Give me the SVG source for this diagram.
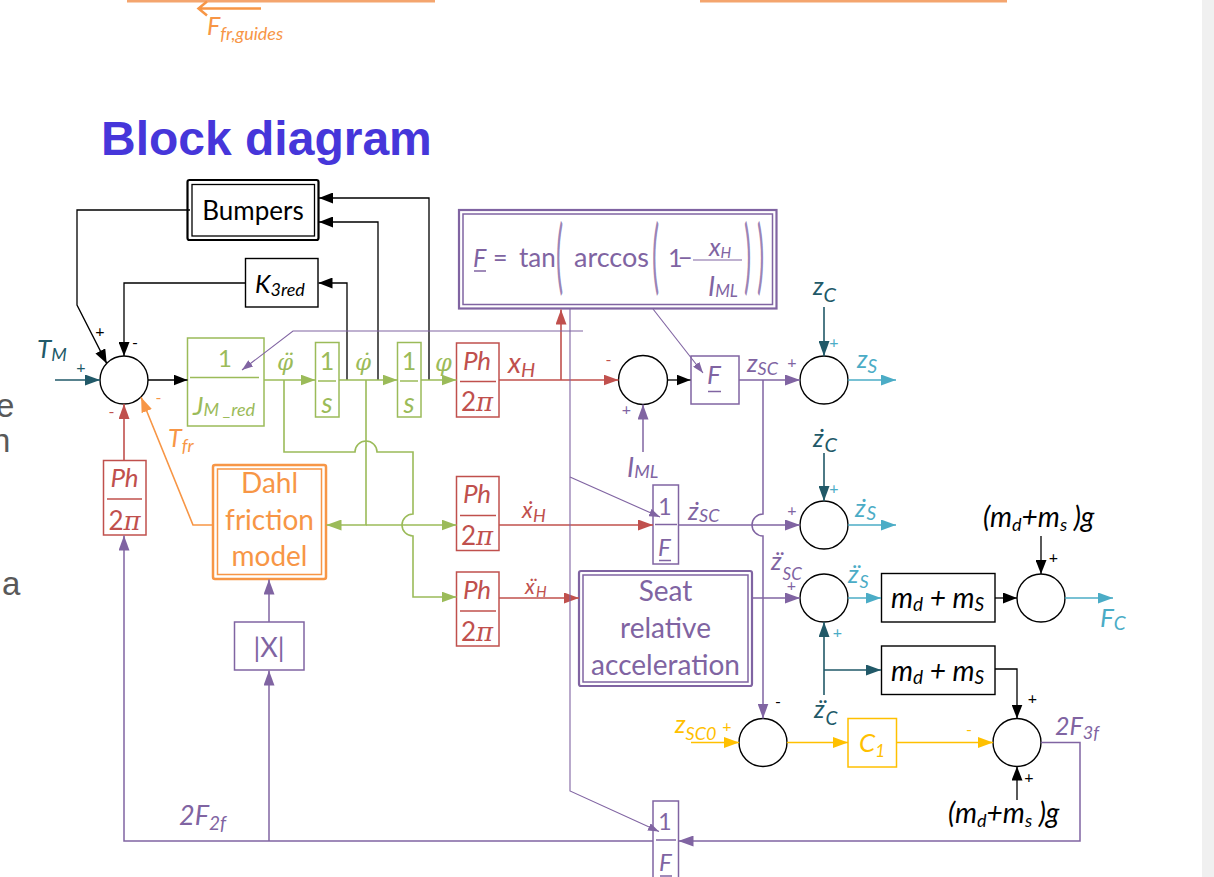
<svg xmlns="http://www.w3.org/2000/svg" width="1214" height="877" viewBox="0 0 1214 877">
<defs>
<style>
text{font-family:Lato,"Open Sans","Liberation Sans",sans-serif}
.it{font-style:italic}
.gk{font-family:"DejaVu Serif","Liberation Serif",serif;font-style:italic}
.ttl{font-family:"Liberation Sans",Arial,sans-serif;font-weight:bold;font-size:48px;fill:#4636DA}
.frag{font-family:"Liberation Sans",Arial,sans-serif;font-size:33px;fill:#595959}
.pm{font-size:16px}
.k{fill:#000}.g{fill:#9BBB59}.r{fill:#C0504D}.p{fill:#8064A2}.o{fill:#F79646}.t{fill:#215968}.c{fill:#4BACC6}.y{fill:#FFC000}
.sum{fill:#fff;stroke:#000;stroke-width:1.4}
.bk{fill:#fff;stroke:#000;stroke-width:1.4}
.bg{fill:#fff;stroke:#9BBB59;stroke-width:1.5}
.br{fill:#fff;stroke:#C0504D;stroke-width:1.5}
.bp{fill:#fff;stroke:#8064A2;stroke-width:1.5}
.by{fill:#fff;stroke:#FFC000;stroke-width:1.5}
.sK{stroke:#000;stroke-width:1.3;fill:none}
.sG{stroke:#9BBB59;stroke-width:1.6;fill:none}
.sR{stroke:#C0504D;stroke-width:1.6;fill:none}
.sP{stroke:#8064A2;stroke-width:1.5;fill:none}
.sPt{stroke:#8064A2;stroke-width:1.1;fill:none}
.sO{stroke:#F79646;stroke-width:1.6;fill:none}
.sT{stroke:#215968;stroke-width:1.6;fill:none}
.sC{stroke:#4BACC6;stroke-width:1.6;fill:none}
.sY{stroke:#FFC000;stroke-width:1.6;fill:none}
</style>
<marker id="aK" viewBox="0 0 14 11" refX="14" refY="5.5" markerWidth="14" markerHeight="11" markerUnits="userSpaceOnUse" orient="auto"><path d="M0,0L14,5.5L0,11z" fill="#000"/></marker>
<marker id="aG" viewBox="0 0 15 11" refX="15" refY="5.5" markerWidth="15" markerHeight="11" markerUnits="userSpaceOnUse" orient="auto"><path d="M0,0L15,5.5L0,11z" fill="#9BBB59"/></marker>
<marker id="aR" viewBox="0 0 15 11" refX="15" refY="5.5" markerWidth="15" markerHeight="11" markerUnits="userSpaceOnUse" orient="auto"><path d="M0,0L15,5.5L0,11z" fill="#C0504D"/></marker>
<marker id="aP" viewBox="0 0 15 11" refX="15" refY="5.5" markerWidth="15" markerHeight="11" markerUnits="userSpaceOnUse" orient="auto"><path d="M0,0L15,5.5L0,11z" fill="#8064A2"/></marker>
<marker id="aPs" viewBox="0 0 11 8" refX="11" refY="4" markerWidth="11" markerHeight="8" markerUnits="userSpaceOnUse" orient="auto"><path d="M0,0L11,4L0,8z" fill="#8064A2"/></marker>
<marker id="aO" viewBox="0 0 15 11" refX="15" refY="5.5" markerWidth="15" markerHeight="11" markerUnits="userSpaceOnUse" orient="auto"><path d="M0,0L15,5.5L0,11z" fill="#F79646"/></marker>
<marker id="aT" viewBox="0 0 15 11" refX="15" refY="5.5" markerWidth="15" markerHeight="11" markerUnits="userSpaceOnUse" orient="auto"><path d="M0,0L15,5.5L0,11z" fill="#215968"/></marker>
<marker id="aC" viewBox="0 0 15 11" refX="15" refY="5.5" markerWidth="15" markerHeight="11" markerUnits="userSpaceOnUse" orient="auto"><path d="M0,0L15,5.5L0,11z" fill="#4BACC6"/></marker>
<marker id="aY" viewBox="0 0 15 11" refX="15" refY="5.5" markerWidth="15" markerHeight="11" markerUnits="userSpaceOnUse" orient="auto"><path d="M0,0L15,5.5L0,11z" fill="#FFC000"/></marker>
</defs>

<rect x="0" y="0" width="1214" height="877" fill="#fff"/>
<rect x="1202" y="0" width="12" height="877" fill="#f0f0f0"/>

<g id="slide-fragments">
<rect x="127" y="0" width="308" height="2.5" fill="#F4A56E"/>
<rect x="700" y="0" width="307" height="2.5" fill="#F4A56E"/>
<path d="M261,8.5H199M207,1.5L198.5,8.5L207,15.5" stroke="#F79646" stroke-width="2.5" fill="none"/>
<text class="it o" x="207" y="35" font-size="25">F<tspan font-size="18" dy="5">fr,guides</tspan></text>
<text class="ttl" x="101" y="155">Block diagram</text>
<text class="frag" x="-4" y="417">e</text>
<text class="frag" x="-8" y="452">n</text>
<text class="frag" x="2" y="595">a</text>
</g>

<g id="nodes">
<g id="bumpers">
<rect x="187.5" y="180" width="131" height="60" rx="2" fill="#fff" stroke="#000" stroke-width="2.2"/>
<rect x="192" y="184.5" width="122.5" height="51.5" fill="none" stroke="#000" stroke-width="1.3"/>
<text class="k" x="253" y="220" text-anchor="middle" font-size="26">Bumpers</text>
</g>
<g id="k3red">
<rect class="bk" x="245.5" y="258.5" width="72.5" height="48.5"/>
<text class="it k" x="255" y="293" font-size="25">K<tspan font-size="18" dy="3">3red</tspan></text>
</g>
<g id="sum1"><circle class="sum" cx="124" cy="380" r="24"/></g>
<g id="inertia">
<rect class="bg" x="187.5" y="338" width="76.5" height="88"/>
<text class="g" x="225" y="367" text-anchor="middle" font-size="24">1</text>
<line x1="190" y1="377.5" x2="259" y2="377.5" stroke="#9BBB59" stroke-width="1.5"/>
<text class="it g" x="193" y="415" font-size="26">J<tspan font-size="18" dy="1">M _red</tspan></text>
</g>
<g id="int1">
<rect class="bg" x="315.5" y="342.5" width="23.5" height="74.5"/>
<text class="g" x="327" y="370" text-anchor="middle" font-size="25">1</text>
<line x1="318" y1="381" x2="336" y2="381" stroke="#9BBB59" stroke-width="1.5"/>
<text class="it g" x="327" y="413" text-anchor="middle" font-size="28">s</text>
</g>
<g id="int2">
<rect class="bg" x="397.5" y="342.5" width="23.5" height="74.5"/>
<text class="g" x="409" y="370" text-anchor="middle" font-size="25">1</text>
<line x1="400" y1="381" x2="418" y2="381" stroke="#9BBB59" stroke-width="1.5"/>
<text class="it g" x="409" y="413" text-anchor="middle" font-size="28">s</text>
</g>
<g id="ph1">
<rect class="br" x="456.5" y="343" width="42.5" height="74"/>
<text class="it r" x="477" y="370" text-anchor="middle" font-size="26">Ph</text>
<line x1="460" y1="381.5" x2="496" y2="381.5" stroke="#C0504D" stroke-width="1.5"/>
<text class="r" x="477" y="411" text-anchor="middle" font-size="26">2<tspan class="gk">π</tspan></text>
</g>
<g id="ph2">
<rect class="br" x="456.5" y="476.5" width="42.5" height="74"/>
<text class="it r" x="477" y="503" text-anchor="middle" font-size="26">Ph</text>
<line x1="460" y1="515.5" x2="496" y2="515.5" stroke="#C0504D" stroke-width="1.5"/>
<text class="r" x="477" y="545" text-anchor="middle" font-size="26">2<tspan class="gk">π</tspan></text>
</g>
<g id="ph3">
<rect class="br" x="456.5" y="572" width="42.5" height="74"/>
<text class="it r" x="477" y="599" text-anchor="middle" font-size="26">Ph</text>
<line x1="460" y1="611" x2="496" y2="611" stroke="#C0504D" stroke-width="1.5"/>
<text class="r" x="477" y="641" text-anchor="middle" font-size="26">2<tspan class="gk">π</tspan></text>
</g>
<g id="ph-left">
<rect class="br" x="103.5" y="460.5" width="42.5" height="74.5"/>
<text class="it r" x="124.5" y="487" text-anchor="middle" font-size="26">Ph</text>
<line x1="107" y1="499" x2="142" y2="499" stroke="#C0504D" stroke-width="1.5"/>
<text class="r" x="124.5" y="530" text-anchor="middle" font-size="26">2<tspan class="gk">π</tspan></text>
</g>
<g id="formula">
<rect class="bp" x="459" y="210" width="317.5" height="98.5" style="stroke-width:2.2"/>
<rect x="463" y="214" width="309.5" height="90.5" fill="none" stroke="#8064A2" stroke-width="1.5"/>
<text class="it p" x="473" y="267" font-size="25">F</text>
<line x1="474" y1="271" x2="486" y2="271" stroke="#8064A2" stroke-width="1.5"/>
<text class="p" x="493" y="267" font-size="25">=</text>
<text class="p" x="519" y="267" font-size="26">tan</text>
<text class="p" transform="translate(556,284) scale(1,3)" font-size="27" fill-opacity="0.8">(</text>
<text class="p" x="574" y="267" font-size="27">arccos</text>
<text class="p" transform="translate(652,284) scale(1,3)" font-size="27" fill-opacity="0.8">(</text>
<text class="p" x="668" y="267" font-size="25">1</text>
<text class="p" x="678" y="267" font-size="25">−</text>
<line x1="693" y1="260" x2="742" y2="260" stroke="#8064A2" stroke-width="1.2"/>
<text class="it p" x="709" y="256" font-size="25">x<tspan font-size="15" dy="2">H</tspan></text>
<text class="it p" x="708" y="296" font-size="27">I<tspan font-size="17" dy="1">ML</tspan></text>
<text class="p" transform="translate(744,284) scale(1,3)" font-size="27" fill-opacity="0.8">)</text>
<text class="p" transform="translate(757,284) scale(1,3)" font-size="27" fill-opacity="0.8">)</text>
</g>
<g id="sum2"><circle class="sum" cx="643" cy="380" r="24.5"/></g>
<g id="fbox">
<rect class="bp" x="691" y="356" width="48" height="48"/>
<text class="it p" x="707" y="384" font-size="26">F</text>
<line x1="708" y1="391.5" x2="721" y2="391.5" stroke="#8064A2" stroke-width="1.5"/>
</g>
<g id="sum3"><circle class="sum" cx="824" cy="380" r="24"/></g>
<g id="sum4"><circle class="sum" cx="824" cy="525" r="24"/></g>
<g id="sum5"><circle class="sum" cx="824" cy="598" r="24"/></g>
<g id="sum6"><circle class="sum" cx="1041" cy="598" r="24"/></g>
<g id="sum7"><circle class="sum" cx="763" cy="742.5" r="24"/></g>
<g id="sum8"><circle class="sum" cx="1017" cy="742.5" r="24"/></g>
<g id="invF-mid">
<rect class="bp" x="653" y="485" width="25.5" height="79"/>
<text class="p" x="665" y="515" text-anchor="middle" font-size="23">1</text>
<line x1="655" y1="524.5" x2="677" y2="524.5" stroke="#8064A2" stroke-width="1.5"/>
<text class="it p" x="658" y="556" font-size="24">F</text>
<line x1="659" y1="560.5" x2="671" y2="560.5" stroke="#8064A2" stroke-width="1.5"/>
</g>
<g id="invF-bot">
<rect class="bp" x="653" y="801" width="25.5" height="90"/>
<text class="p" x="665" y="830" text-anchor="middle" font-size="23">1</text>
<line x1="656" y1="840" x2="676" y2="840" stroke="#8064A2" stroke-width="1.5"/>
<text class="it p" x="659" y="871" font-size="24">F</text>
<line x1="660" y1="876" x2="672" y2="876" stroke="#8064A2" stroke-width="1.5"/>
</g>
<g id="seat">
<rect class="bp" x="579" y="571" width="173" height="115" rx="2" style="stroke-width:2.2"/>
<rect x="583" y="575" width="165" height="107" fill="none" stroke="#8064A2" stroke-width="1.5"/>
<text class="p" x="665.5" y="601" text-anchor="middle" font-size="28">Seat</text>
<text class="p" x="665.5" y="638" text-anchor="middle" font-size="28">relative</text>
<text class="p" x="665.5" y="675" text-anchor="middle" font-size="28">acceleration</text>
</g>
<g id="dahl">
<rect x="213" y="465" width="113" height="114" rx="2" fill="#fff" stroke="#F79646" stroke-width="2.5"/>
<rect x="217.5" y="469" width="104" height="105.5" fill="none" stroke="#F79646" stroke-width="1.5"/>
<text class="o" x="269.5" y="493" text-anchor="middle" font-size="28">Dahl</text>
<text class="o" x="269.5" y="530" text-anchor="middle" font-size="28">friction</text>
<text class="o" x="269.5" y="566" text-anchor="middle" font-size="28">model</text>
</g>
<g id="absx">
<rect class="bp" x="234.5" y="622" width="69.5" height="48"/>
<text class="p" x="269" y="657" text-anchor="middle" font-size="27">|X|</text>
</g>
<g id="mass1">
<rect class="bk" x="881.5" y="573.5" width="113.5" height="48.5"/>
<text class="it k" x="891" y="608" font-size="28">m<tspan font-size="19" dy="3">d</tspan><tspan dy="-3"> + m</tspan><tspan font-size="19" dy="3">S</tspan></text>
</g>
<g id="mass2">
<rect class="bk" x="881.5" y="646" width="113.5" height="48.5"/>
<text class="it k" x="891" y="681" font-size="28">m<tspan font-size="19" dy="3">d</tspan><tspan dy="-3"> + m</tspan><tspan font-size="19" dy="3">S</tspan></text>
</g>
<g id="c1">
<rect class="by" x="848" y="718.5" width="48.5" height="48.5"/>
<text class="it y" x="859" y="752" font-size="26">C<tspan font-size="17" dy="5">1</tspan></text>
</g>
</g>

<g id="connectors">
<path class="sK" d="M190,210H77V305L106.7,363.4" marker-end="url(#aK)"/>
<path class="sK" d="M245,283H124V356" marker-end="url(#aK)"/>
<path class="sK" d="M347,380V283H318.5" marker-end="url(#aK)"/>
<path class="sK" d="M378,380V222H319" marker-end="url(#aK)"/>
<path class="sK" d="M429,380V198H319" marker-end="url(#aK)"/>
<path class="sK" d="M148,380H187.5" marker-end="url(#aK)"/>
<path class="sK" d="M667.5,380H690.5" marker-end="url(#aK)"/>
<path class="sK" d="M995,598H1017" marker-end="url(#aK)"/>
<path class="sK" d="M1041,536V574" marker-end="url(#aK)"/>
<path class="sK" d="M995,669H1017V718.5" marker-end="url(#aK)"/>
<path class="sK" d="M1017,800V766.5" marker-end="url(#aK)"/>

<path class="sT" d="M55,380H100" marker-end="url(#aT)"/>
<path class="sT" d="M824,307V356" marker-end="url(#aT)"/>
<path class="sT" d="M824,453V501" marker-end="url(#aT)"/>
<path class="sT" d="M824,695V622" marker-end="url(#aT)"/>
<path class="sT" d="M824,670H881" marker-end="url(#aT)"/>

<path class="sC" d="M848,380H896" marker-end="url(#aC)"/>
<path class="sC" d="M848,525H896" marker-end="url(#aC)"/>
<path class="sC" d="M848,598H881" marker-end="url(#aC)"/>
<path class="sC" d="M1065,598H1113" marker-end="url(#aC)"/>

<path class="sG" d="M264,380H315.5" marker-end="url(#aG)"/>
<path class="sG" d="M339,380H397.5" marker-end="url(#aG)"/>
<path class="sG" d="M421,380H456.5" marker-end="url(#aG)"/>
<path class="sG" d="M284,380V452H355A11,11 0 0 1 377,452H413V514A11,11 0 0 0 413,536V597H456.5" marker-end="url(#aG)"/>
<path class="sG" d="M366,380V525H326.5" marker-end="url(#aG)"/>
<path class="sG" d="M366,525H456.5" marker-end="url(#aG)"/>

<path class="sR" d="M499,380H618.5" marker-end="url(#aR)"/>
<path class="sR" d="M561,380V309.5" marker-end="url(#aR)"/>
<path class="sR" d="M499,525H653" marker-end="url(#aR)"/>
<path class="sR" d="M499,598H579" marker-end="url(#aR)"/>
<path class="sR" d="M124,460.5V404" marker-end="url(#aR)"/>

<path class="sO" d="M213,525H193L141.1,397.2" marker-end="url(#aO)"/>

<path class="sP" d="M653,841H124V535.5" marker-end="url(#aP)"/>
<path class="sP" d="M269,841V670.5" marker-end="url(#aP)"/>
<path class="sP" d="M269,622V579.5" marker-end="url(#aP)"/>
<path class="sPt" d="M570,309V791L659,831.5" marker-end="url(#aPs)"/>
<path class="sPt" d="M570,477L660,517" marker-end="url(#aPs)"/>
<path class="sPt" d="M583,331H293L242,370" marker-end="url(#aPs)"/>
<path class="sPt" d="M653,309L703,373" marker-end="url(#aPs)"/>
<path class="sP" d="M739,380H800" marker-end="url(#aP)"/>
<path class="sP" d="M763,380V514A11,11 0 0 0 763,536V718.5" marker-end="url(#aP)"/>
<path class="sP" d="M678.5,525H800" marker-end="url(#aP)"/>
<path class="sP" d="M752,598H800" marker-end="url(#aP)"/>
<path class="sP" d="M1041,742.5H1080V841H678.5" marker-end="url(#aP)"/>
<path class="sP" d="M643,452V404.5" marker-end="url(#aP)"/>

<path class="sY" d="M691,742.5H739" marker-end="url(#aY)"/>
<path class="sY" d="M787,742.5H848" marker-end="url(#aY)"/>
<path class="sY" d="M896.5,742.5H993" marker-end="url(#aY)"/>
</g>

<g id="labels">
<text class="it t" x="37" y="358" font-size="26">T<tspan font-size="18" dy="3">M</tspan></text>
<text class="pm t" x="81" y="373" text-anchor="middle">+</text>
<text class="pm k" x="100" y="337" text-anchor="middle">+</text>
<text class="pm k" x="135" y="348" text-anchor="middle">-</text>
<text class="pm r" x="111.5" y="417" text-anchor="middle">-</text>
<text class="pm o" x="158.5" y="403" text-anchor="middle">-</text>
<text class="it o" x="168" y="447" font-size="25">T<tspan font-size="18" dy="5">fr</tspan></text>

<text class="gk g" x="277" y="370" font-size="23">φ<tspan x="287" text-anchor="middle">¨</tspan></text>
<text class="gk g" x="355" y="370" font-size="23">φ<tspan x="365" text-anchor="middle">˙</tspan></text>
<text class="gk g" x="435" y="371" font-size="24">φ</text>

<text class="it r" x="508" y="373" font-size="28">x<tspan font-size="20" dy="4">H</tspan></text>
<text class="it r" x="522" y="518" font-size="23">x<tspan x="529" text-anchor="middle">˙</tspan><tspan x="533" font-size="18" dy="4">H</tspan></text>
<text class="it r" x="525" y="594" font-size="21">x<tspan x="532" text-anchor="middle">¨</tspan><tspan x="536" font-size="15" dy="3">H</tspan></text>
<text class="pm r" x="608.5" y="365" text-anchor="middle">-</text>
<text class="pm p" x="626.5" y="415" text-anchor="middle">+</text>
<text class="it p" x="627" y="477" font-size="27">I<tspan font-size="18" dy="1">ML</tspan></text>

<text class="it p" x="747" y="372" font-size="25">z<tspan font-size="18" dy="3">SC</tspan></text>
<text class="pm p" x="792" y="368" text-anchor="middle">+</text>
<text class="it t" x="813" y="295" font-size="25">z<tspan font-size="20" dy="7">C</tspan></text>
<text class="pm c" x="834" y="347.5" text-anchor="middle">+</text>
<text class="it c" x="857" y="368" font-size="25">z<tspan font-size="19" dy="5">S</tspan></text>

<text class="it p" x="688" y="520" font-size="25">z<tspan x="695" text-anchor="middle">˙</tspan><tspan x="699" font-size="18" dy="2">SC</tspan></text>
<text class="it t" x="813" y="447" font-size="25">z<tspan x="820" text-anchor="middle">˙</tspan><tspan x="824.5" font-size="20" dy="5">C</tspan></text>
<text class="pm c" x="834" y="494" text-anchor="middle">+</text>
<text class="pm p" x="792" y="516" text-anchor="middle">+</text>
<text class="it c" x="855" y="517" font-size="25">z<tspan x="862" text-anchor="middle">˙</tspan><tspan x="866.5" font-size="19" dy="3">S</tspan></text>

<text class="it p" x="771" y="570" font-size="25">z<tspan x="778" text-anchor="middle">¨</tspan><tspan x="782.5" font-size="17" dy="10">SC</tspan></text>
<text class="pm p" x="791.5" y="591" text-anchor="middle">+</text>
<text class="it c" x="848" y="583" font-size="25">z<tspan x="855" text-anchor="middle">¨</tspan><tspan x="859.5" font-size="18" dy="5">S</tspan></text>
<text class="pm c" x="837.5" y="637.5" text-anchor="middle">+</text>
<text class="it t" x="814" y="718" font-size="25">z<tspan x="821" text-anchor="middle">¨</tspan><tspan x="825.5" font-size="19" dy="7">C</tspan></text>
<text class="pm k" x="778" y="707" text-anchor="middle">-</text>

<text class="it y" x="675" y="733" font-size="25">z<tspan font-size="18" dy="7">SC0</tspan></text>
<text class="pm y" x="727" y="731.5" text-anchor="middle">+</text>
<text class="pm y" x="969" y="735" text-anchor="middle">-</text>

<text class="it k" x="983" y="527" font-size="28">(m<tspan font-size="18" dy="4">d</tspan><tspan dy="-4">+m</tspan><tspan font-size="18" dy="4">s</tspan><tspan dy="-4"> )g</tspan></text>
<text class="pm k" x="1053.5" y="563" text-anchor="middle">+</text>
<text class="it c" x="1100" y="627" font-size="26">F<tspan font-size="19" dy="3">C</tspan></text>
<text class="pm k" x="1032.5" y="704" text-anchor="middle">+</text>
<text class="pm k" x="1029" y="782.5" text-anchor="middle">+</text>
<text class="it k" x="948" y="823" font-size="28">(m<tspan font-size="18" dy="4">d</tspan><tspan dy="-4">+m</tspan><tspan font-size="18" dy="4">s</tspan><tspan dy="-4"> )g</tspan></text>
<text class="it p" x="1055" y="735" font-size="25">2F<tspan font-size="18" dy="4">3f</tspan></text>
<text class="it p" x="179" y="825" font-size="27">2F<tspan font-size="19" dy="5">2f</tspan></text>
</g>
</svg>
